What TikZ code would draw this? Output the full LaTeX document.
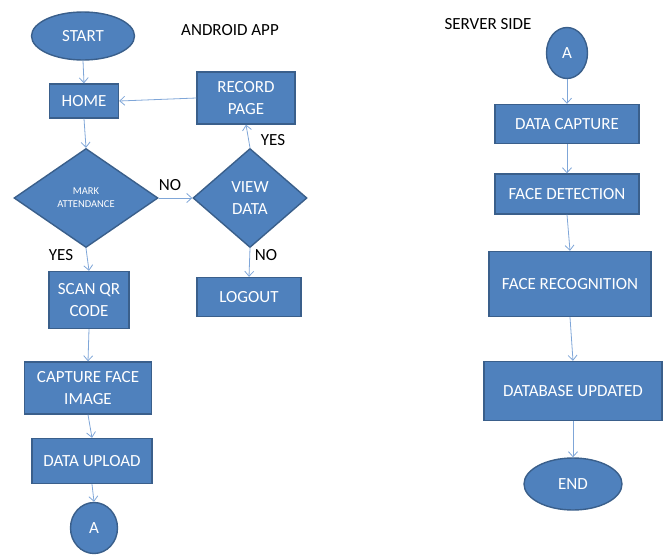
\documentclass[tikz,border=0pt]{standalone}
\usepackage{fontspec}
\setmainfont{Carlito}
\definecolor{boxblue}{HTML}{4F81BD}
\definecolor{boxedge}{HTML}{3A5F8B}
\definecolor{arrblue}{HTML}{7FA6D8}
\usetikzlibrary{arrows.meta,positioning,shapes.geometric}

\begin{document}
\begin{tikzpicture}[
    x=1pt, y=-1pt,
    flowbox/.style={draw=boxedge, line width=1.4pt, fill=boxblue, text=white,
                font=\fontsize{17}{22}\selectfont, align=center, inner sep=0pt},
    termbox/.style={flowbox, ellipse},
    decide/.style={flowbox, diamond, aspect=1.15},
    lbl/.style={font=\fontsize{17}{22}\selectfont, text=black},
    arr/.style={-{Straight Barb[length=5pt,width=9pt]}, line width=0.8pt, arrblue}
  ]
    \useasboundingbox (0,0) rectangle (667,555);

    % Titles
    \node[lbl] (apptitle) at (230,30) {ANDROID APP};
    \node[lbl] (srvtitle) at (488,24) {SERVER SIDE};

    % Android app
    \node[termbox, minimum width=103pt, minimum height=48pt] (start) at (83,36) {START};
    \node[flowbox, minimum width=69pt, minimum height=34pt] (home) at (84,101) {HOME};
    \node[flowbox, minimum width=98pt, minimum height=52pt] (record) at (246,98) {RECORD\\PAGE};
    \node[decide, minimum width=144pt, minimum height=99pt,
          font=\fontsize{10.5}{13}\selectfont] (mark) at (86,198) {MARK\\ATTENDANCE};
    \node[decide, minimum width=114pt, minimum height=99pt] (view) at (250,198) {VIEW\\DATA};
    \node[flowbox, minimum width=80pt, minimum height=57pt] (scan) at (89,300) {SCAN QR\\CODE};
    \node[flowbox, minimum width=104pt, minimum height=39pt] (logout) at (249,297) {LOGOUT};
    \node[flowbox, minimum width=127pt, minimum height=52pt] (capture) at (88,388) {CAPTURE FACE\\IMAGE};
    \node[flowbox, minimum width=120pt, minimum height=45pt] (upload) at (92,461) {DATA UPLOAD};
    \node[termbox, minimum width=47pt, minimum height=51pt] (linka) at (94,528) {A};

    % Branch labels
    \node[lbl] (noview) at (170,185) {NO};
    \node[lbl] (yesrec) at (273,140) {YES};
    \node[lbl] (yesscan) at (61,255) {YES};
    \node[lbl] (nolog) at (266,255) {NO};

    % Server side
    \node[termbox, minimum width=41pt, minimum height=51pt] (linkb) at (567,53) {A};
    \node[flowbox, minimum width=144pt, minimum height=39pt] (dcap) at (567,124) {DATA CAPTURE};
    \node[flowbox, minimum width=144pt, minimum height=40pt] (fdet) at (567,194) {FACE DETECTION};
    \node[flowbox, minimum width=162pt, minimum height=65pt] (frec) at (570,284) {FACE RECOGNITION};
    \node[flowbox, minimum width=178pt, minimum height=59pt] (dbup) at (573,391) {DATABASE UPDATED};
    \node[termbox, minimum width=98pt, minimum height=52pt] (finish) at (573,484) {END};

    % Arrows
    \draw[arr] (start.south) -- (home.north);
    \draw[arr] (home.south) -- (mark.north);
    \draw[arr] (record.west) -- (home.east);
    \draw[arr] (mark.east) -- (view.west);
    \draw[arr] (view.north) -- (record.south);
    \draw[arr] (view.south) -- (logout.north);
    \draw[arr] (mark.south) -- (scan.north);
    \draw[arr] (scan.south) -- (capture.north);
    \draw[arr] (capture.south) -- (upload.north);
    \draw[arr] (upload.south) -- (linka.north);

    \draw[arr] (linkb.south) -- (dcap.north);
    \draw[arr] (dcap.south) -- (fdet.north);
    \draw[arr] (fdet.south) -- (frec.north);
    \draw[arr] (frec.south) -- (dbup.north);
    \draw[arr] (dbup.south) -- (finish.north);
  \end{tikzpicture}
\end{document}
